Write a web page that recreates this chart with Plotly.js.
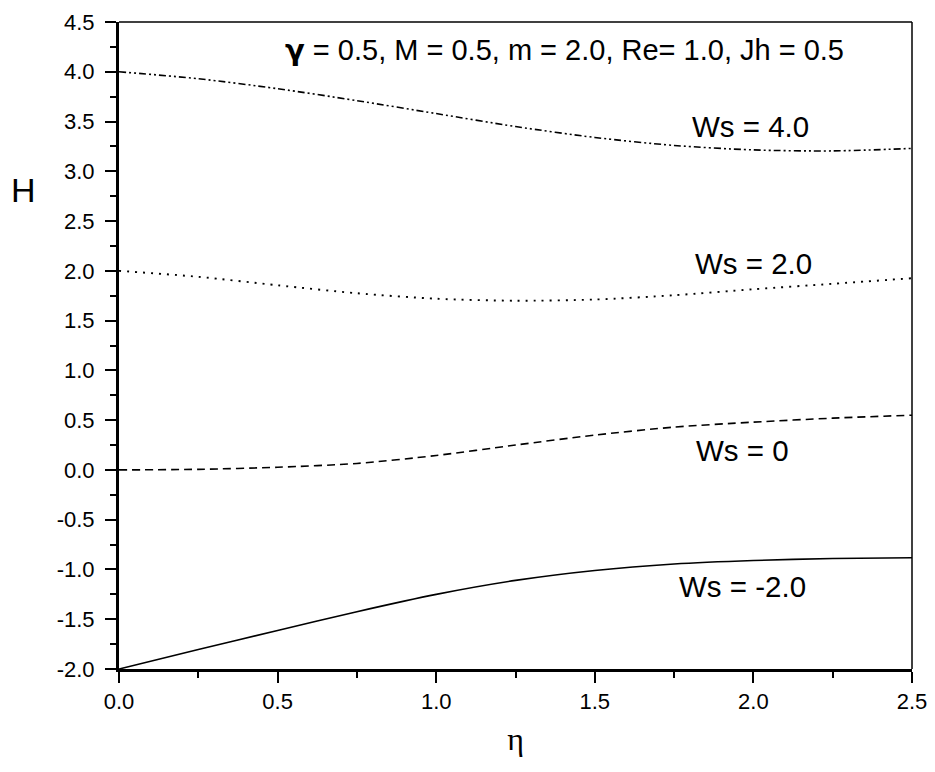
<!DOCTYPE html>
<html>
<head>
<meta charset="utf-8">
<script src="https://cdn.plot.ly/plotly-3.0.1.min.js"></script>
<style>html,body{margin:0;padding:0;background:#fff;}#chart{width:935px;height:772px;}</style>
</head>
<body>
<div id="chart"></div>
<script>
// eta grid and H for each Ws
const eta = [0.0, 0.25, 0.5, 0.75, 1.0, 1.25, 1.5, 1.75, 2.0, 2.25, 2.5];
const H_ws4  = [4.0, 3.93, 3.83, 3.71, 3.58, 3.45, 3.34, 3.26, 3.215, 3.205, 3.23];
const H_ws2  = [2.0, 1.94, 1.855, 1.775, 1.72, 1.70, 1.712, 1.755, 1.815, 1.87, 1.926];
const H_ws0  = [0.0, 0.006, 0.027, 0.065, 0.145, 0.25, 0.35, 0.43, 0.48, 0.52, 0.55];
const H_wsm2 = [-2.0, -1.805, -1.613, -1.424, -1.25, -1.11, -1.01, -0.945, -0.91, -0.89, -0.882];

const curveLabels = ["Ws = 4.0", "Ws = 2.0", "Ws = 0", "Ws = -2.0"];
const labelX = [1.99, 2.0, 1.967, 1.967];
const labelY = [3.45, 2.07, 0.20, -1.17];
const paramText = "<span style=\"font-family:'DejaVu Sans'\"><b>γ</b></span> = 0.5, M = 0.5, m = 2.0, Re= 1.0, Jh = 0.5";

const xTickVals = [0, 0.5, 1.0, 1.5, 2.0, 2.5];
const xTickText = ["0.0", "0.5", "1.0", "1.5", "2.0", "2.5"];
const yTickVals = [-2.0, -1.5, -1.0, -0.5, 0.0, 0.5, 1.0, 1.5, 2.0, 2.5, 3.0, 3.5, 4.0, 4.5];
const yTickText = ["-2.0", "-1.5", "-1.0", "-0.5", "0.0", "0.5", "1.0", "1.5", "2.0", "2.5", "3.0", "3.5", "4.0", "4.5"];

const lineStyle = (dash, w) => ({color: '#000', width: w, dash: dash, shape: 'spline', smoothing: 0.8});

const traces = [
  {x: eta, y: H_ws4, mode: 'lines', line: lineStyle('7px,3px,2px,3px,2px,3px', 1.6), name: curveLabels[0]},
  {x: eta, y: H_ws2, mode: 'lines', line: lineStyle('2px,6px', 1.9), name: curveLabels[1]},
  {x: eta, y: H_ws0, mode: 'lines', line: lineStyle('8px,5px', 1.6), name: curveLabels[2]},
  {x: eta, y: H_wsm2, mode: 'lines', line: lineStyle('solid', 1.6), name: curveLabels[3]}
];

const annFont = {family: 'Liberation Sans, Arial, sans-serif', size: 29.5, color: '#000'};
const annotations = curveLabels.map((t, i) => ({
  x: labelX[i], y: labelY[i], xref: 'x', yref: 'y', text: t, showarrow: false,
  font: annFont, xanchor: 'center', yanchor: 'middle'
}));
annotations.push({
  x: 1.406, y: 4.22, xref: 'x', yref: 'y', text: paramText, showarrow: false,
  font: {family: 'Liberation Sans, Arial, sans-serif', size: 29, color: '#000'},
  xanchor: 'center', yanchor: 'middle'
});
annotations.push({
  x: -0.12, y: 0.74, xref: 'paper', yref: 'paper', xanchor: 'center', yanchor: 'middle',
  text: 'H', showarrow: false, font: {family: 'Liberation Sans, Arial, sans-serif', size: 34, color: '#000'}
});

const tickFont = {family: 'Liberation Sans, Arial, sans-serif', size: 22, color: '#000'};

const layout = {
  width: 935, height: 772,
  margin: {l: 119, r: 23, t: 22, b: 103},
  paper_bgcolor: '#fff', plot_bgcolor: '#fff',
  showlegend: false,
  xaxis: {
    range: [0, 2.5], tickmode: 'array', tickvals: xTickVals, ticktext: xTickText,
    showgrid: false, zeroline: false,
    showline: true, linewidth: 3, linecolor: '#000',
    ticks: 'outside', ticklen: 11, tickwidth: 2, tickcolor: '#000',
    minor: {dtick: 0.25, tick0: 0, ticks: 'outside', ticklen: 6, tickwidth: 2, tickcolor: '#000'},
    tickfont: tickFont, ticklabelstandoff: 0,
    title: {text: 'η', font: {family: 'Liberation Serif, Times New Roman, serif', size: 32, color: '#000'}, standoff: 15}
  },
  yaxis: {
    range: [-2.0, 4.5], tickmode: 'array', tickvals: yTickVals, ticktext: yTickText,
    showgrid: false, zeroline: false,
    showline: true, linewidth: 3, linecolor: '#000',
    ticks: 'outside', ticklen: 11, tickwidth: 2, tickcolor: '#000',
    minor: {dtick: 0.25, tick0: 0, ticks: 'outside', ticklen: 6, tickwidth: 2, tickcolor: '#000'},
    tickfont: tickFont, ticklabelstandoff: 6
  },
  shapes: [
    {type: 'line', xref: 'paper', yref: 'paper', x0: 0, x1: 1, y0: 1, y1: 1, line: {color: '#000', width: 1.5}},
    {type: 'line', xref: 'paper', yref: 'paper', x0: 1, x1: 1, y0: 0, y1: 1, line: {color: '#000', width: 1.5}}
  ],
  annotations: annotations
};

Plotly.newPlot('chart', traces, layout, {displayModeBar: false, staticPlot: true});
</script>
</body>
</html>
